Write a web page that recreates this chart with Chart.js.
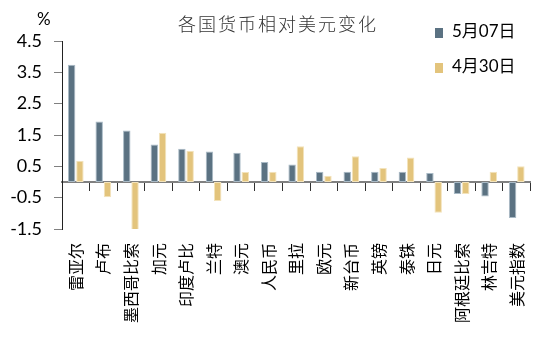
<!DOCTYPE html>
<html>
<head>
<meta charset="utf-8">
<script src="https://cdn.jsdelivr.net/npm/chart.js@4"></script>
<style>
  html, body { margin: 0; padding: 0; background: #fff; }
  #wrap { position: relative; width: 550px; height: 349px; }
  .txt { position: absolute; font-family: Lato, "Noto Sans CJK SC", sans-serif; color: #000; white-space: nowrap; }
  #unit { left: 37px; top: 8px; font-size: 17px; }
  #title { left: 178px; top: 10px; font-size: 18px; color: #333; font-family: "Noto Sans CJK SC", sans-serif; font-weight: 300; letter-spacing: 2px; }
  .leg { left: 435px; font-size: 17px; }
  .leg i { display: inline-block; width: 8px; height: 10px; margin-right: 9px; vertical-align: -1px; }
</style>
</head>
<body>
<div id="wrap">
  <canvas id="chart" width="550" height="349"></canvas>
  <div class="txt" id="unit">%</div>
  <div class="txt" id="title">各国货币相对美元变化</div>
  <div class="txt leg" id="leg1" style="top:17px"><i style="background:#5b7282"></i>5月07日</div>
  <div class="txt leg" id="leg2" style="top:52px"><i style="background:#e3c47c"></i>4月30日</div>
</div>
<script>
const currencies = ['雷亚尔', '卢布', '墨西哥比索', '加元', '印度卢比', '兰特', '澳元', '人民币', '里拉',
    '欧元', '新台币', '英镑', '泰铢', '日元', '阿根廷比索', '林吉特', '美元指数'];
const may07 = [3.74, 1.93, 1.64, 1.20, 1.06, 0.97, 0.93, 0.64, 0.56, 0.33, 0.33, 0.33, 0.33, 0.29, -0.38, -0.46, -1.15];
const apr30 = [0.68, -0.49, -1.56, 1.57, 1.00, -0.61, 0.32, 0.33, 1.14, 0.20, 0.82, 0.45, 0.78, -0.98, -0.38, 0.33, 0.50];
const yTicks = [-1.5, -0.5, 0.5, 1.5, 2.5, 3.5, 4.5];

const ctx = document.getElementById('chart').getContext('2d');
new Chart(ctx, {
    type: 'bar',
    data: {
        labels: currencies,
        datasets: [
            {
                label: '5月07日',
                data: may07,
                backgroundColor: '#5b7282',
                borderColor: '#a9bac6',
                borderWidth: 1,
                borderSkipped: false,
            },
            {
                label: '4月30日',
                data: apr30,
                backgroundColor: '#e3c47c',
                borderColor: '#f3e3bb',
                borderWidth: 1,
                borderSkipped: false,
            },
        ],
    },
    options: {
        responsive: false,
        animation: false,
        datasets: {
            bar: {
                categoryPercentage: 0.6,
                barPercentage: 0.9,
            },
        },
        layout: {
            padding: { top: 41, right: 2, left: 0, bottom: 0 },
        },
        scales: {
            x: {
                position: 'bottom',
                grid: { display: false, drawTicks: false },
                border: { display: false },
                ticks: {
                    maxRotation: 90,
                    minRotation: 90,
                    autoSkip: false,
                    padding: 14,
                    color: '#000',
                    font: { family: '"Noto Sans CJK SC"', size: 16 },
                },
                afterFit: (scale) => { scale.height = 120; },
            },
            // zero line with tick marks between categories
            x2: {
                type: 'category',
                position: { y: 0 },
                ticks: { display: false },
                grid: {
                    offset: true,
                    drawOnChartArea: false,
                    tickLength: 8,
                    color: '#333',
                },
                border: { color: '#808080', width: 2 },
            },
            y: {
                min: -1.5,
                max: 4.5,
                afterBuildTicks: (scale) => {
                    scale.ticks = yTicks.map(v => ({ value: v }));
                },
                afterFit: (scale) => { scale.width = 62; },
                grid: {
                    drawOnChartArea: false,
                    tickLength: 8,
                    color: '#808080',
                },
                border: { color: '#222', width: 1 },
                ticks: {
                    padding: 12,
                    color: '#000',
                    font: { family: 'Lato', size: 18 },
                    callback: (v) => v.toFixed(1),
                },
            },
        },
        plugins: {
            legend: { display: false },
            tooltip: { enabled: false },
        },
    },
});
</script>
</body>
</html>
